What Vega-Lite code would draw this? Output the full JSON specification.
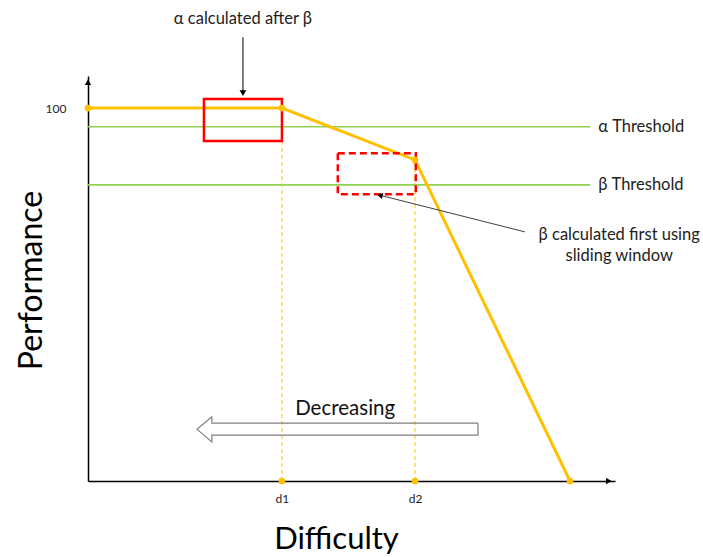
{
  "$schema": "https://vega.github.io/schema/vega-lite/v6.json",
  "width": 527,
  "height": 405,
  "padding": {"left": 88, "top": 76, "right": 88, "bottom": 76},
  "autosize": {"type": "none"},
  "background": "white",
  "config": {"view": {"stroke": null}, "font": "Lato"},
  "datasets": {
    "perf": [
      {"d": 0, "p": 100, "o": 1},
      {"d": 36.8, "p": 100, "o": 2},
      {"d": 62.05, "p": 86.1, "o": 3},
      {"d": 91.46, "p": 0, "o": 4}
    ],
    "marks": [
      {"d": 0, "p": 100},
      {"d": 36.8, "p": 100},
      {"d": 62.05, "p": 86.1},
      {"d": 91.46, "p": 0},
      {"d": 36.8, "p": 0},
      {"d": 62.05, "p": 0}
    ],
    "thresholds": [
      {"p": 95, "start": 0, "end": 95.3, "lx": 96.8, "label": "α Threshold"},
      {"p": 79.4, "start": 0, "end": 95.3, "lx": 96.8, "label": "β Threshold"}
    ],
    "drops": [
      {"d": 36.8, "base": 0, "p": 100},
      {"d": 62.05, "base": 0, "p": 86.1}
    ],
    "boxes": [
      {"x1": 22.0, "x2": 36.8, "y1": 91.2, "y2": 102.4, "kind": "alpha"},
      {"x1": 47.4, "x2": 62.2, "y1": 76.9, "y2": 87.9, "kind": "beta"}
    ],
    "hollow": [
      {"x": 74.0, "y": 15.5, "o": 1},
      {"x": 23.5, "y": 15.5, "o": 2},
      {"x": 23.5, "y": 17.2, "o": 3},
      {"x": 20.7, "y": 13.85, "o": 4},
      {"x": 23.5, "y": 10.5, "o": 5},
      {"x": 23.5, "y": 12.3, "o": 6},
      {"x": 74.0, "y": 12.3, "o": 7},
      {"x": 74.0, "y": 15.5, "o": 8}
    ],
    "betaArrow": [
      {"x": 82.9, "y": 66.8, "o": 1},
      {"x": 55.2, "y": 76.7, "o": 2}
    ]
  },
  "layer": [
    {
      "data": {"name": "drops"},
      "mark": {"type": "rule", "color": "#FFC000", "strokeWidth": 1, "strokeDash": [4, 3]},
      "encoding": {
        "x": {
          "field": "d", "type": "quantitative",
          "scale": {"domain": [0, 100], "nice": false, "zero": false},
          "axis": {
            "values": [36.8, 62.05], "labelExpr": "datum.value < 50 ? 'd1' : 'd2'", "ticks": false, "grid": false,
            "domainColor": "black", "domainWidth": 1.5, "labelFontSize": 12, "labelPadding": 12, "labelColor": "#222", "labelFont": "Lato",
            "title": "Difficulty", "titleFontSize": 31, "titleFontWeight": "normal", "titleFont": "Lato",
            "titleColor": "black", "titleX": 248, "titleY": 58, "titleBaseline": "middle", "titleAlign": "center"
          }
        },
        "y": {
          "field": "base", "type": "quantitative",
          "scale": {"domain": [0, 108.6], "nice": false, "zero": false},
          "axis": {
            "values": [100], "ticks": false, "grid": false, "domainColor": "black", "domainWidth": 1.5,
            "labelFontSize": 12, "labelPadding": 22, "labelColor": "#222", "labelFont": "Lato",
            "title": "Performance", "titleFontSize": 32, "titleFontWeight": "normal", "titleFont": "Lato",
            "titleColor": "black", "titleX": -57, "titleY": 204, "titleAngle": -90, "titleBaseline": "middle", "titleAlign": "center"
          }
        },
        "y2": {"field": "p"}
      }
    },
    {
      "data": {"name": "thresholds"},
      "mark": {"type": "rule", "color": "#92D050", "strokeWidth": 1.6},
      "encoding": {
        "y": {"field": "p", "type": "quantitative"},
        "x": {"field": "start", "type": "quantitative"},
        "x2": {"field": "end"}
      }
    },
    {
      "data": {"name": "thresholds"},
      "mark": {"type": "text", "align": "left", "baseline": "middle", "fontSize": 16.5, "color": "#222"},
      "encoding": {
        "x": {"field": "lx", "type": "quantitative"},
        "y": {"field": "p", "type": "quantitative"},
        "text": {"field": "label", "type": "nominal"}
      }
    },
    {
      "data": {"name": "perf"},
      "mark": {"type": "line", "color": "#FFC000", "strokeWidth": 3},
      "encoding": {
        "x": {"field": "d", "type": "quantitative"},
        "y": {"field": "p", "type": "quantitative"},
        "order": {"field": "o", "type": "quantitative"}
      }
    },
    {
      "data": {"name": "boxes"},
      "transform": [{"filter": "datum.kind == 'alpha'"}],
      "mark": {"type": "rect", "fillOpacity": 0, "stroke": "#FF0000", "strokeWidth": 2.5},
      "encoding": {
        "x": {"field": "x1", "type": "quantitative"},
        "x2": {"field": "x2"},
        "y": {"field": "y1", "type": "quantitative"},
        "y2": {"field": "y2"}
      }
    },
    {
      "data": {"name": "boxes"},
      "transform": [{"filter": "datum.kind == 'beta'"}],
      "mark": {"type": "rect", "fillOpacity": 0, "stroke": "#FF0000", "strokeWidth": 2.5, "strokeDash": [7, 4]},
      "encoding": {
        "x": {"field": "x1", "type": "quantitative"},
        "x2": {"field": "x2"},
        "y": {"field": "y1", "type": "quantitative"},
        "y2": {"field": "y2"}
      }
    },
    {
      "data": {"name": "marks"},
      "mark": {"type": "point", "filled": true, "color": "#FFC000", "size": 45, "opacity": 1},
      "encoding": {
        "x": {"field": "d", "type": "quantitative"},
        "y": {"field": "p", "type": "quantitative"}
      }
    },
    {
      "data": {"values": [{"x": 29.4, "y": 119.0, "y2": 104.5}]},
      "mark": {"type": "rule", "color": "black", "strokeWidth": 1},
      "encoding": {
        "x": {"field": "x", "type": "quantitative"},
        "y": {"field": "y", "type": "quantitative"},
        "y2": {"field": "y2"}
      }
    },
    {
      "data": {"values": [{"x": 29.4, "y": 104.0}]},
      "mark": {"type": "point", "shape": "triangle-down", "filled": true, "color": "black", "size": 45, "opacity": 1},
      "encoding": {
        "x": {"field": "x", "type": "quantitative"},
        "y": {"field": "y", "type": "quantitative"}
      }
    },
    {
      "data": {"values": [{"x": 29.4, "y": 124.0, "t": "α calculated after β"}]},
      "mark": {"type": "text", "fontSize": 16.5, "color": "#222", "baseline": "middle", "align": "center"},
      "encoding": {
        "x": {"field": "x", "type": "quantitative"},
        "y": {"field": "y", "type": "quantitative"},
        "text": {"field": "t", "type": "nominal"}
      }
    },
    {
      "data": {"name": "betaArrow"},
      "mark": {"type": "line", "color": "#404040", "strokeWidth": 1},
      "encoding": {
        "x": {"field": "x", "type": "quantitative"},
        "y": {"field": "y", "type": "quantitative"},
        "order": {"field": "o", "type": "quantitative"}
      }
    },
    {
      "data": {"values": [{"x": 55.4, "y": 76.6}]},
      "mark": {"type": "point", "shape": "triangle-up", "angle": 284, "filled": true, "color": "black", "size": 40, "opacity": 1},
      "encoding": {
        "x": {"field": "x", "type": "quantitative"},
        "y": {"field": "y", "type": "quantitative"}
      }
    },
    {
      "data": {"values": [
        {"x": 100.8, "y": 65.9, "t": "β calculated first using"},
        {"x": 100.8, "y": 60.3, "t": "sliding window"}
      ]},
      "mark": {"type": "text", "fontSize": 16.5, "color": "#222", "baseline": "middle", "align": "center"},
      "encoding": {
        "x": {"field": "x", "type": "quantitative"},
        "y": {"field": "y", "type": "quantitative"},
        "text": {"field": "t", "type": "nominal"}
      }
    },
    {
      "data": {"name": "hollow"},
      "mark": {"type": "line", "color": "#7F7F7F", "strokeWidth": 1.2, "strokeJoin": "miter"},
      "encoding": {
        "x": {"field": "x", "type": "quantitative"},
        "y": {"field": "y", "type": "quantitative"},
        "order": {"field": "o", "type": "quantitative"}
      }
    },
    {
      "data": {"values": [{"x": 48.8, "y": 19.3, "t": "Decreasing"}]},
      "mark": {"type": "text", "fontSize": 20.5, "color": "#111", "baseline": "middle", "align": "center"},
      "encoding": {
        "x": {"field": "x", "type": "quantitative"},
        "y": {"field": "y", "type": "quantitative"},
        "text": {"field": "t", "type": "nominal"}
      }
    },
    {
      "data": {"values": [{"x": 0, "y": 106.9}]},
      "mark": {"type": "point", "shape": "triangle-up", "filled": true, "color": "black", "size": 40, "opacity": 1},
      "encoding": {
        "x": {"field": "x", "type": "quantitative"},
        "y": {"field": "y", "type": "quantitative"}
      }
    },
    {
      "data": {"values": [{"x": 98.8, "y": 0}]},
      "mark": {"type": "point", "shape": "triangle-right", "filled": true, "color": "black", "size": 40, "opacity": 1},
      "encoding": {
        "x": {"field": "x", "type": "quantitative"},
        "y": {"field": "y", "type": "quantitative"}
      }
    }
  ]
}
